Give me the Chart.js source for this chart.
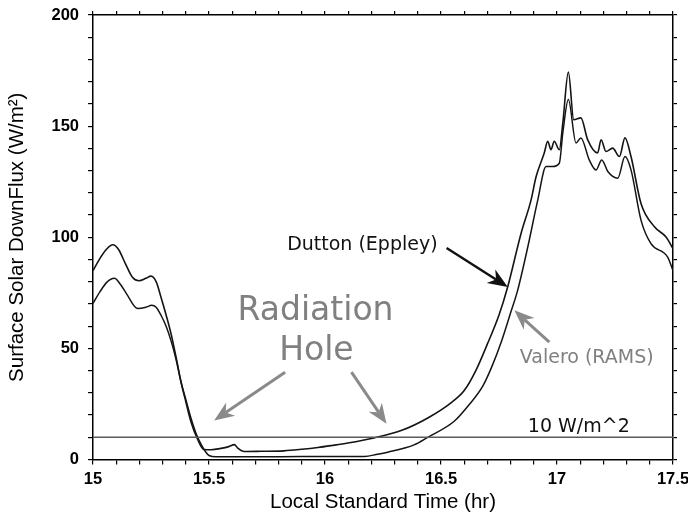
<!DOCTYPE html>
<html>
<head>
<meta charset="utf-8">
<script src="https://cdn.jsdelivr.net/npm/chart.js@4.4.1/dist/chart.umd.min.js"></script>
<style>
  html, body { margin: 0; padding: 0; background: #fff; }
</style>
</head>
<body>
<canvas id="flux" width="688" height="517"></canvas>
<script>
// Surface solar downward flux during the "radiation hole":
// observed (Dutton, Eppley pyranometer) vs modelled (Valero, RAMS).

const duttonTime = [15.00, 15.03, 15.06, 15.085, 15.11, 15.14, 15.17, 15.198, 15.228, 15.25,
  15.272, 15.293, 15.315, 15.336, 15.358, 15.379, 15.40, 15.422, 15.451, 15.478,
  15.509, 15.552, 15.585, 15.609, 15.625, 15.651, 15.724, 15.823, 15.90, 15.969,
  16.03, 16.098, 16.211, 16.328, 16.443, 16.543, 16.60, 16.65, 16.70, 16.75,
  16.787, 16.845, 16.888, 16.91, 16.945, 16.96, 16.974, 16.988, 17.01, 17.025,
  17.049, 17.072, 17.103, 17.132, 17.175, 17.19, 17.211, 17.24, 17.269, 17.293,
  17.319, 17.362, 17.42, 17.47, 17.5];
const duttonFlux = [85, 90.5, 94.8, 96.6, 94.5, 88, 82, 80.4, 81.5, 82.5,
  80, 73, 65, 56.7, 46, 35, 26, 17, 9, 4.5,
  4.4, 5, 5.8, 6.7, 5, 3.6, 3.7, 3.9, 4.6, 5.4,
  6.3, 7.4, 9.7, 13, 18.7, 25.5, 31, 40, 52, 65,
  77.5, 101.7, 116.7, 127.3, 137.9, 143.2, 139.4, 143.2, 139.4, 151.4,
  174.3, 152.9, 153.7, 143.9, 137.9, 143.9, 138.6, 140.1, 136.3, 144.7,
  136.3, 115.2, 104.7, 100.1, 94.9];

const valeroTime = [15.00, 15.03, 15.06, 15.092, 15.12, 15.142, 15.193, 15.228, 15.253, 15.272,
  15.293, 15.315, 15.336, 15.358, 15.379, 15.40, 15.422, 15.445, 15.466, 15.485,
  15.5, 15.53, 15.724, 15.897, 16.069, 16.17, 16.22, 16.27, 16.384, 16.443,
  16.557, 16.62, 16.68, 16.72, 16.76, 16.80, 16.83, 16.874, 16.917, 16.953,
  16.981, 17.01, 17.025, 17.049, 17.082, 17.103, 17.139, 17.168, 17.193, 17.219,
  17.262, 17.293, 17.319, 17.362, 17.405, 17.477, 17.5];
const valeroFlux = [70.2, 75.5, 79.8, 81.5, 78.5, 75, 67.9, 68.5, 69.4, 68.5,
  64.9, 60, 53.5, 45, 35, 27, 18.7, 11.5, 6.8, 3.5,
  1.8, 1.2, 1.2, 1.3, 1.3, 1.4, 2.2, 3.3, 6.6, 10,
  17.2, 24.5, 33, 42, 53, 66, 76, 95.6, 116.7, 131.8,
  131.8, 133.3, 146.9, 162, 142.4, 144.7, 134.8, 130.3, 134.8, 129.6,
  126.6, 136.3, 130.3, 107.7, 97.1, 91.1, 85];

const thresholdFlux = 10;
const timeRange = [15, 17.5];
const fluxRange = [0, 200];

// annotation text and arrows, in data units (hr, W/m^2)
const notes = [
  { text: 'Radiation', x: 15.959, y: 62.6, size: 33, color: '#808080' },
  { text: 'Hole', x: 15.963, y: 44.6, size: 33, color: '#808080' },
  { text: 'Dutton (Eppley)', x: 16.161, y: 94.1, size: 19, color: '#111' },
  { text: 'Valero (RAMS)', x: 17.128, y: 43.2, size: 19, color: '#808080' },
  { text: '10 W/m^2', x: 17.094, y: 12.2, size: 19, color: '#111' }
];
const arrows = [
  { from: [16.524, 95.2], to: [16.788, 77.6], color: '#111', width: 2.4 },
  { from: [16.967, 52.8], to: [16.816, 67.1], color: '#8a8a8a', width: 3 },
  { from: [15.828, 39.3], to: [15.522, 17.6], color: '#8a8a8a', width: 3 },
  { from: [16.114, 39.3], to: [16.265, 16.1], color: '#8a8a8a', width: 3 }
];

const pts = (xs, ys) => xs.map((x, i) => ({ x, y: ys[i] }));

function drawArrow(ctx, x1, y1, x2, y2, color, width) {
  const ang = Math.atan2(y2 - y1, x2 - x1);
  const len = 20, half = 8, notch = 6;
  const cos = Math.cos(ang), sin = Math.sin(ang);
  const bx = x2 - cos * len, by = y2 - sin * len;
  const nx = x2 - cos * (len - notch), ny = y2 - sin * (len - notch);
  ctx.save();
  ctx.strokeStyle = color; ctx.fillStyle = color; ctx.lineWidth = width;
  ctx.beginPath();
  ctx.moveTo(x1, y1);
  ctx.lineTo(nx, ny);
  ctx.stroke();
  ctx.beginPath();
  ctx.moveTo(x2, y2);
  ctx.lineTo(bx - sin * half, by + cos * half);
  ctx.lineTo(nx, ny);
  ctx.lineTo(bx + sin * half, by - cos * half);
  ctx.closePath();
  ctx.fill();
  ctx.restore();
}

const annotate = {
  id: 'annotate',
  afterDatasetsDraw(chart) {
    const { ctx } = chart;
    const xs = chart.scales.x, ys = chart.scales.y;
    notes.forEach(n => {
      ctx.save();
      ctx.font = n.size + 'px "DejaVu Sans"';
      ctx.fillStyle = n.color;
      ctx.textAlign = 'center';
      ctx.textBaseline = 'alphabetic';
      ctx.fillText(n.text, xs.getPixelForValue(n.x), ys.getPixelForValue(n.y));
      ctx.restore();
    });
    arrows.forEach(a => drawArrow(ctx,
      xs.getPixelForValue(a.from[0]), ys.getPixelForValue(a.from[1]),
      xs.getPixelForValue(a.to[0]), ys.getPixelForValue(a.to[1]), a.color, a.width));
  }
};

const tickFont = { family: '"Liberation Sans", Arial, sans-serif', size: 16.5, weight: 'bold', lineHeight: 1 };
const titleFont = { family: '"Liberation Sans", Arial, sans-serif', size: 20.5, lineHeight: 1 };
const frame = { display: true, color: '#000', width: 1.5 };
const marks = len => ({ drawOnChartArea: false, drawTicks: true, tickLength: len, color: '#000', lineWidth: 1.2 });
// the frame is set by layout padding alone, not by label overhang
const noOverhang = s => { s.paddingTop = 0; s.paddingBottom = 0; s.paddingLeft = 0; s.paddingRight = 0; };

new Chart(document.getElementById('flux'), {
  type: 'line',
  data: {
    datasets: [
      { label: '10 W/m^2', data: pts(timeRange, [thresholdFlux, thresholdFlux]), borderColor: '#5a5a5a', borderWidth: 1.4, pointRadius: 0 },
      { label: 'Dutton (Eppley)', data: pts(duttonTime, duttonFlux), borderColor: '#141414', borderWidth: 1.6, pointRadius: 0, cubicInterpolationMode: 'monotone' },
      { label: 'Valero (RAMS)', data: pts(valeroTime, valeroFlux), borderColor: '#141414', borderWidth: 1.5, pointRadius: 0, cubicInterpolationMode: 'monotone' }
    ]
  },
  options: {
    responsive: false, animation: false, devicePixelRatio: 1,
    layout: { padding: { top: 11, right: 11, bottom: 0, left: 2 } },
    plugins: { legend: { display: false }, tooltip: { enabled: false } },
    scales: {
      x: {
        type: 'linear', position: 'bottom', min: timeRange[0], max: timeRange[1],
        grid: marks(5), border: frame, afterFit: noOverhang,
        ticks: {
          stepSize: 0.1, autoSkip: false, maxTicksLimit: 100, maxRotation: 0, padding: 7,
          color: '#000', font: tickFont,
          callback: v => Math.abs(v * 2 - Math.round(v * 2)) < 1e-6 ? String(Math.round(v * 10) / 10) : ''
        },
        title: { display: true, text: 'Local Standard Time (hr)', color: '#000', font: titleFont, padding: { top: -2.5, bottom: 4 } }
      },
      y: {
        type: 'linear', position: 'left', min: fluxRange[0], max: fluxRange[1],
        grid: marks(5), border: frame, afterFit: noOverhang,
        ticks: {
          stepSize: 10, autoSkip: false, maxTicksLimit: 100, padding: 9,
          color: '#000', font: tickFont,
          callback: v => v % 50 === 0 ? String(v) : ''
        },
        title: { display: true, text: 'Surface Solar DownFlux (W/m²)', color: '#000', font: titleFont, padding: { top: 5, bottom: 15 } }
      },
      x2: {
        type: 'linear', position: 'top', min: timeRange[0], max: timeRange[1],
        grid: marks(4), border: frame, afterFit: noOverhang,
        ticks: { display: false, stepSize: 0.1, maxTicksLimit: 100 }
      },
      y2: {
        type: 'linear', position: 'right', min: fluxRange[0], max: fluxRange[1],
        grid: marks(4), border: frame, afterFit: noOverhang,
        ticks: { display: false, stepSize: 10, maxTicksLimit: 100 }
      }
    }
  },
  plugins: [annotate]
});
</script>
</body>
</html>
